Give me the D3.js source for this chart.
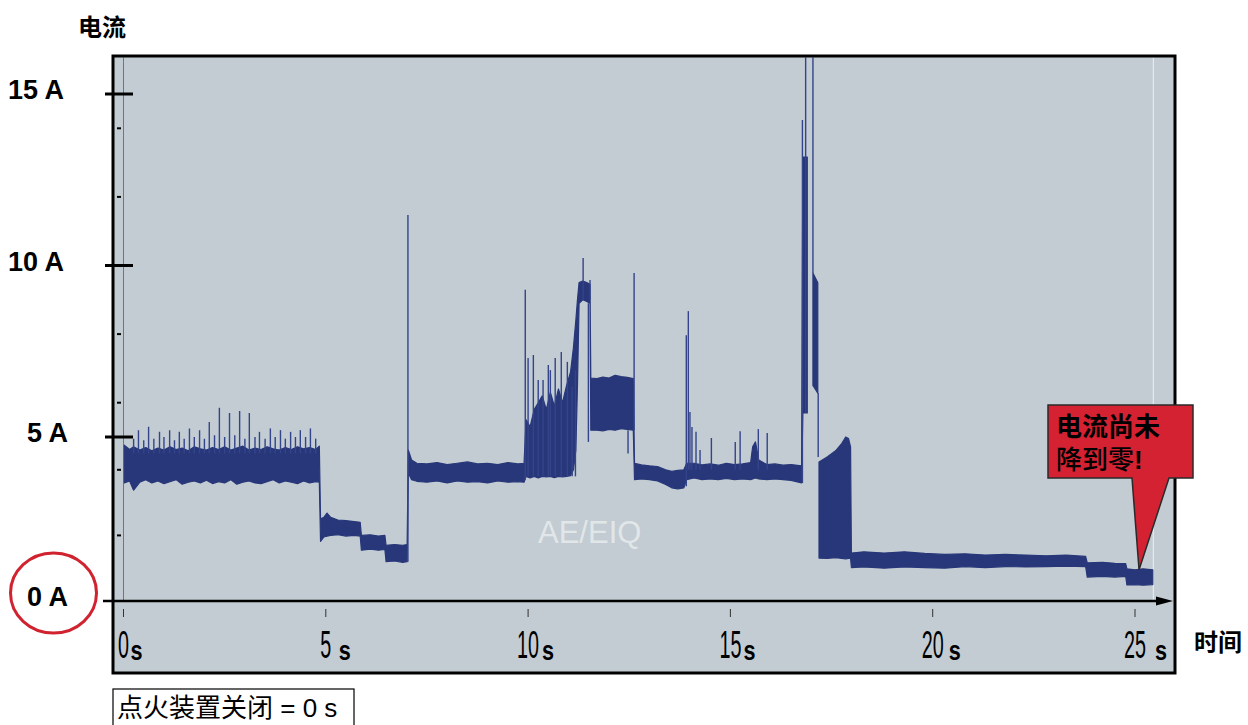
<!DOCTYPE html>
<html>
<head>
<meta charset="utf-8">
<script src="https://cdn.jsdelivr.net/npm/d3@7"></script>
<style>
  html, body { margin: 0; padding: 0; background: #fff; }
  svg { display: block; }
</style>
</head>
<body>
<div id="chart"></div>
<script>
(function(){
  'use strict';

  // ---- data (time in s, current in A) ----
  var bandT  = [0.02,0.15,0.25,0.4,0.55,0.7,0.85,1.0,1.15,1.3,1.45,1.6,1.75,1.9,2.05,2.2,2.35,2.5,2.65,2.8,2.95,3.1,3.25,3.4,3.55,3.7,3.85,4.0,4.15,4.3,4.45,4.6,4.75,4.84,
                4.87,4.95,5.03,5.12,5.3,5.5,5.7,5.85,5.88,6.1,6.3,6.46,6.49,6.7,6.9,7.01,
                7.04,7.12,7.25,7.5,7.75,8.0,8.25,8.5,8.75,9.0,9.25,9.5,9.75,9.9,
                9.95,10.05,10.15,10.25,10.35,10.45,10.55,10.65,10.75,10.85,10.95,11.05,11.12,11.18,11.22,11.26,11.35,11.45,11.53,
                11.55,11.7,11.85,12.0,12.15,12.3,12.45,12.6,
                12.63,12.8,13.0,13.2,13.4,13.55,13.7,13.85,13.92,14.1,14.3,14.5,14.7,14.9,15.1,15.3,15.5,15.55,15.62,15.7,15.9,16.1,16.3,16.5,16.76,
                16.79,16.9,16.91,17.04,17.16,17.17,
                17.19,17.4,17.6,17.75,17.85,17.92,17.97,
                17.99,18.3,18.8,19.3,19.8,20.3,20.8,21.3,21.8,22.3,22.8,23.3,23.78,
                23.82,24.2,24.5,24.77,24.8,25.0,25.2,25.44];
  var bandHi = [4.75,4.62,4.7,4.6,4.68,4.58,4.66,4.6,4.7,4.62,4.66,4.58,4.7,4.64,4.6,4.68,4.62,4.7,4.6,4.66,4.72,4.6,4.66,4.62,4.7,4.64,4.6,4.68,4.62,4.7,4.64,4.68,4.62,4.72,
                2.5,2.55,2.68,2.55,2.47,2.45,2.42,2.4,2.0,2.02,1.98,2.0,1.7,1.72,1.7,1.72,
                4.6,4.3,4.2,4.18,4.22,4.16,4.2,4.24,4.18,4.2,4.16,4.22,4.18,4.2,
                5.5,5.3,5.8,6.0,6.2,5.8,6.3,5.9,6.4,6.0,6.5,6.9,7.6,8.4,9.0,9.5,9.55,9.5,9.45,
                6.72,6.7,6.75,6.72,6.8,6.76,6.74,6.7,
                4.2,4.15,4.12,4.1,4.0,3.95,3.98,4.0,4.2,4.2,4.15,4.18,4.14,4.2,4.16,4.18,4.22,4.7,4.85,4.3,4.16,4.18,4.14,4.16,4.12,
                13.16,13.16,null,9.78,9.5,null,
                4.24,4.4,4.58,4.8,5.0,4.95,4.7,
                1.46,1.5,1.46,1.5,1.45,1.42,1.44,1.4,1.42,1.4,1.38,1.4,1.36,
                1.16,1.18,1.15,1.14,0.98,0.95,0.98,0.95];
  var bandLo = [3.6,3.66,3.38,3.62,3.7,3.6,3.66,3.58,3.64,3.7,3.56,3.62,3.66,3.6,3.68,3.58,3.64,3.6,3.7,3.56,3.62,3.66,3.6,3.58,3.64,3.7,3.6,3.66,3.62,3.58,3.66,3.6,3.64,3.62,
                1.82,1.95,1.98,2.0,2.02,1.98,2.0,1.98,1.55,1.58,1.55,1.57,1.2,1.22,1.18,1.2,
                3.9,3.7,3.65,3.62,3.66,3.6,3.66,3.62,3.64,3.6,3.66,3.62,3.64,3.62,
                3.8,3.75,3.8,3.75,3.8,3.78,3.8,3.76,3.8,3.78,3.8,3.82,4.0,4.6,6.5,8.9,9.0,8.95,8.9,
                5.2,5.2,5.18,5.22,5.2,5.24,5.22,5.2,
                3.7,3.72,3.7,3.66,3.55,3.45,3.42,3.45,3.7,3.75,3.7,3.72,3.7,3.74,3.7,3.72,3.7,3.72,3.75,3.72,3.7,3.72,3.7,3.68,3.6,
                5.7,5.7,null,6.5,6.28,null,
                1.31,1.3,1.32,1.3,1.28,1.3,1.3,
                1.02,1.04,1.0,1.04,1.02,1.0,1.05,1.02,1.05,1.04,1.05,1.06,1.05,
                0.73,0.75,0.73,0.75,0.49,0.5,0.48,0.5];

  // single narrow spikes on top of the band
  var spikeT  = [0.25,0.37,0.5,0.62,0.75,0.89,1.0,1.14,1.26,1.38,1.5,1.63,1.75,1.88,2.0,2.12,2.25,2.37,2.5,2.62,2.75,2.87,3.0,3.11,3.25,3.36,3.5,3.63,3.75,3.88,4.0,4.13,4.25,4.37,4.5,4.62,4.75,
                 7.03,
                 9.93,10.0,10.13,10.25,10.37,10.5,10.55,10.67,10.82,10.97,11.09,11.17,
                 11.36,11.49,11.53,12.47,12.62,
                 13.91,13.96,14.0,14.05,14.15,14.25,14.53,15.12,15.24,15.69,15.91,
                 16.78,16.86,17.04,17.17];
  var spikeLo = [4.5,4.5,4.5,4.5,4.5,4.5,4.5,4.5,4.5,4.5,4.5,4.5,4.5,4.5,4.5,4.5,4.5,4.5,4.5,4.5,4.5,4.5,4.5,4.5,4.5,4.5,4.5,4.5,4.5,4.5,4.5,4.5,4.5,4.5,4.5,4.5,4.5,
                 1.2,
                 3.7,3.8,3.8,3.8,3.8,3.8,3.8,3.8,3.8,3.8,3.8,3.8,
                 9.0,4.85,9.0,4.5,5.2,
                 3.5,4.0,4.0,4.0,4.0,4.0,4.0,4.0,4.0,4.0,4.0,
                 3.6,5.7,9.78,4.39];
  var spikeHi = [4.95,5.2,4.9,5.3,4.95,5.15,5.0,5.2,4.9,5.15,4.95,5.25,5.0,5.2,4.95,5.44,5.05,5.85,5.0,5.7,5.05,5.76,4.95,5.7,5.0,5.15,4.95,5.25,5.0,5.2,4.95,5.15,5.0,5.2,5.0,5.25,4.95,
                 11.47,
                 9.29,7.3,7.39,6.66,6.66,7.1,6.95,7.3,7.48,7.19,6.46,6.95,
                 10.22,8.9,9.58,5.2,9.78,
                 7.97,8.67,5.73,5.29,5.15,4.6,4.97,4.85,5.17,5.23,5.12,
                 14.24,16.3,16.3,6.28];

  var majorTicks = [0, 5, 10, 15];
  var minorTicks = [2, 4, 6, 8, 12, 14];
  var timeTicks  = [0, 5, 10, 15, 20, 25];
  var unitGap    = [7, 13, 14, 13, 16, 20];   // where the small "s" sits after each number

  var W = 1248, H = 725;
  var frame = { x0: 113, y0: 56, x1: 1175, y1: 673 };
  var navy = '#283779';
  var latin = '"Liberation Sans", Arial, sans-serif';
  var cjk = '"Liberation Sans", "Noto Sans CJK SC", sans-serif';

  var x = d3.scaleLinear().domain([0, 25]).range([123.5, 1135]);
  // the printed axis is not quite even, so use a piecewise scale
  var y = d3.scaleLinear().domain([0, 5, 15]).range([601, 437, 94]);

  var svg = d3.select('#chart').append('svg')
    .attr('width', W).attr('height', H)
    .attr('viewBox', '0 0 ' + W + ' ' + H);

  svg.append('defs').append('clipPath').attr('id', 'plotClip')
    .append('rect')
    .attr('x', frame.x0 + 1.5).attr('y', frame.y0 + 1.5)
    .attr('width', frame.x1 - frame.x0 - 3).attr('height', frame.y1 - frame.y0 - 3);

  // plot background
  svg.append('rect')
    .attr('x', frame.x0).attr('y', frame.y0)
    .attr('width', frame.x1 - frame.x0).attr('height', frame.y1 - frame.y0)
    .attr('fill', '#c2ccd2');

  // watermark
  svg.append('text')
    .attr('x', 538).attr('y', 543)
    .attr('font-family', latin).attr('font-size', 31)
    .attr('fill', '#e1e6e9')
    .text('AE/EIQ');

  var plot = svg.append('g').attr('clip-path', 'url(#plotClip)');

  // thin vertical markers at 0 s and at end of recording
  plot.append('line')
    .attr('x1', x(0)).attr('x2', x(0))
    .attr('y1', frame.y0).attr('y2', y(0))
    .attr('stroke', '#6c7784').attr('stroke-width', 1);
  plot.append('line')
    .attr('x1', x(bandT[bandT.length - 1]) + 0.5).attr('x2', x(bandT[bandT.length - 1]) + 0.5)
    .attr('y1', frame.y0).attr('y2', y(0))
    .attr('stroke', '#eef1f3').attr('stroke-width', 1);

  // the current trace: a filled envelope plus spikes
  var band = bandT.map(function(t, i){ return { t: t, hi: bandHi[i], lo: bandLo[i] }; });
  var area = d3.area()
    .defined(function(d){ return d.hi != null; })
    .x(function(d){ return x(d.t); })
    .y0(function(d){ return y(d.lo); })
    .y1(function(d){ return y(d.hi); });

  plot.append('path')
    .datum(band)
    .attr('d', area)
    .attr('fill', navy)
    .attr('stroke', navy).attr('stroke-width', 1.2)
    .attr('stroke-linejoin', 'round');

  var spikes = spikeT.map(function(t, i){ return { t: t, lo: spikeLo[i], hi: spikeHi[i] }; });
  plot.selectAll('line.spike')
    .data(spikes)
    .enter().append('line')
    .attr('class', 'spike')
    .attr('x1', function(d){ return x(d.t); })
    .attr('x2', function(d){ return x(d.t); })
    .attr('y1', function(d){ return y(d.lo); })
    .attr('y2', function(d){ return y(d.hi); })
    .attr('stroke', '#34448a').attr('stroke-width', 1.4);

  // frame
  svg.append('rect')
    .attr('x', frame.x0).attr('y', frame.y0)
    .attr('width', frame.x1 - frame.x0).attr('height', frame.y1 - frame.y0)
    .attr('fill', 'none').attr('stroke', '#000').attr('stroke-width', 3);

  // time axis with arrow
  svg.append('line')
    .attr('x1', 103).attr('x2', 1160)
    .attr('y1', y(0)).attr('y2', y(0))
    .attr('stroke', '#000').attr('stroke-width', 2.5);
  svg.append('path')
    .attr('d', 'M1156,' + (y(0) - 4.5) + 'L1173,' + y(0) + 'L1156,' + (y(0) + 4.5) + 'Z')
    .attr('fill', '#000');

  // y ticks
  svg.selectAll('line.major')
    .data(majorTicks.filter(function(v){ return v > 0; }))
    .enter().append('line')
    .attr('class', 'major')
    .attr('x1', 105).attr('x2', 133)
    .attr('y1', function(d){ return y(d); }).attr('y2', function(d){ return y(d); })
    .attr('stroke', '#000').attr('stroke-width', 3);
  svg.selectAll('line.minor')
    .data(minorTicks)
    .enter().append('line')
    .attr('class', 'minor')
    .attr('x1', 117).attr('x2', 121)
    .attr('y1', function(d){ return y(d); }).attr('y2', function(d){ return y(d); })
    .attr('stroke', '#000').attr('stroke-width', 2);

  svg.selectAll('text.ylab')
    .data(majorTicks)
    .enter().append('text')
    .attr('class', 'ylab')
    .attr('x', function(d){ return d >= 10 ? 64 : 68; })
    .attr('y', function(d){ return y(d) + 5; })
    .attr('text-anchor', 'end')
    .attr('font-family', latin).attr('font-weight', 'bold').attr('font-size', 27)
    .attr('fill', '#000')
    .text(function(d){ return d + ' A'; });

  // red ring round 0 A
  svg.append('ellipse')
    .attr('cx', 53.5).attr('cy', 593).attr('rx', 43).attr('ry', 40)
    .attr('fill', 'none').attr('stroke', '#d0232f').attr('stroke-width', 3);

  // x ticks and labels
  svg.selectAll('line.xtick')
    .data(timeTicks)
    .enter().append('line')
    .attr('class', 'xtick')
    .attr('x1', function(d){ return x(d); }).attr('x2', function(d){ return x(d); })
    .attr('y1', 609).attr('y2', 617)
    .attr('stroke', '#333').attr('stroke-width', 1);

  var xl = svg.selectAll('g.xlab')
    .data(timeTicks)
    .enter().append('g')
    .attr('class', 'xlab');
  xl.append('text')
    .attr('transform', function(d){ return 'translate(' + x(d) + ',658) scale(0.52,1)'; })
    .attr('text-anchor', 'middle')
    .attr('font-family', latin).attr('font-size', 38)
    .attr('fill', '#000')
    .text(function(d){ return d; });
  xl.append('text')
    .attr('transform', function(d, i){ return 'translate(' + (x(d) + unitGap[i]) + ',660) scale(0.8,1)'; })
    .attr('font-family', latin).attr('font-weight', 'bold').attr('font-size', 27)
    .attr('fill', '#000')
    .text('s');

  // axis titles
  svg.append('text')
    .attr('x', 78).attr('y', 36)
    .attr('font-family', cjk).attr('font-weight', 'bold').attr('font-size', 24)
    .text('电流');
  svg.append('text')
    .attr('x', 1194).attr('y', 651)
    .attr('font-family', cjk).attr('font-weight', 'bold').attr('font-size', 24)
    .text('时间');

  // callout pointing at the last part of the trace
  var tipX = x(25.1), tipY = y(0.95);
  svg.append('path')
    .attr('d', 'M1048,405H1193V478H1169L' + tipX + ',' + tipY + 'L1132,478H1048Z')
    .attr('fill', '#d42232').attr('stroke', '#2a2a2a').attr('stroke-width', 1.5)
    .attr('stroke-linejoin', 'miter');
  svg.append('text')
    .attr('x', 1056).attr('y', 436)
    .attr('font-family', cjk).attr('font-weight', 'bold').attr('font-size', 26)
    .text('电流尚未');
  var line2 = svg.append('text')
    .attr('x', 1056).attr('y', 469)
    .attr('font-family', cjk).attr('font-weight', 500).attr('font-size', 26);
  line2.append('tspan').text('降到零');
  line2.append('tspan').attr('font-weight', 'bold').text('!');

  // note at the bottom, kept just inside the page edge
  svg.append('rect')
    .attr('x', 113).attr('y', 689).attr('width', 241).attr('height', 50)
    .attr('fill', '#fff').attr('stroke', '#000').attr('stroke-width', 1.2);
  svg.append('text')
    .attr('x', 117).attr('y', 717)
    .attr('font-family', cjk).attr('font-size', 26)
    .text('点火装置关闭 = 0 s');

})();
</script>
</body>
</html>
